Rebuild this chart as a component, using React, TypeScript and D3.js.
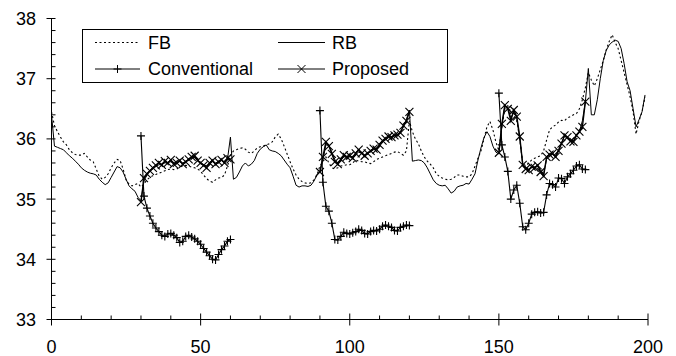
import React from "react";
import * as d3 from "d3";

// FB and RB cover steps 0..199; the two estimators restart every 60 steps
const fb = [
  36.45, 36.22, 36.12, 36.03, 35.95, 35.9, 35.82, 35.77, 35.74, 35.73,
  35.73, 35.76, 35.7, 35.65, 35.62, 35.5, 35.38, 35.33, 35.36, 35.42,
  35.52, 35.6, 35.66, 35.64, 35.5, 35.32, 35.25, 35.22, 35.24, 35.26,
  35.2, 35.25, 35.32, 35.36, 35.39, 35.41, 35.43, 35.45, 35.47, 35.49,
  35.5, 35.49, 35.5, 35.53, 35.55, 35.56, 35.55, 35.53, 35.52, 35.5,
  35.46, 35.4, 35.34, 35.3, 35.28, 35.32, 35.35, 35.36, 35.4, 35.55,
  35.72, 35.8, 35.82, 35.84, 35.85, 35.83, 35.78, 35.76, 35.8, 35.85,
  35.87, 35.88, 35.9, 35.92, 35.95, 36.03, 36.08, 36.0, 35.88, 35.75,
  35.62, 35.5, 35.4, 35.33, 35.29, 35.27, 35.26, 35.27, 35.32, 35.4,
  35.55, 35.62, 35.7, 35.6, 35.52, 35.5, 35.52, 35.55, 35.56, 35.57,
  35.57, 35.6, 35.65, 35.63, 35.62, 35.62, 35.6, 35.59, 35.62, 35.66,
  35.68, 35.7, 35.72, 35.74, 35.76, 35.78, 35.79, 35.76, 35.73, 35.8,
  36.3, 36.12, 36.0, 35.92, 35.8, 35.7, 35.63, 35.58, 35.52, 35.42,
  35.38, 35.35, 35.33, 35.32, 35.33, 35.36, 35.4, 35.4, 35.38, 35.37,
  35.37, 35.42, 35.55, 35.68, 35.8, 36.0, 36.2, 36.29, 36.15, 35.95,
  35.8, 36.2, 36.5, 36.55, 36.45, 36.4, 36.3, 36.0, 35.6, 35.55,
  35.6, 35.65, 35.68, 35.7, 35.72, 35.8, 35.98, 36.15, 36.2, 36.23,
  36.28, 36.31, 36.3, 36.35, 36.37, 36.4, 36.42, 36.5, 36.65, 36.85,
  37.1, 36.98, 36.88, 37.0, 37.15, 37.3, 37.48, 37.62, 37.73, 37.6,
  37.5, 37.3, 37.1, 36.9, 36.7, 36.45, 36.08, 36.3, 36.45, 36.7,
];

const rb = [
  36.4, 35.88, 35.86, 35.84, 35.82, 35.77, 35.72, 35.68, 35.63, 35.58,
  35.52, 35.48, 35.45, 35.43, 35.42, 35.4, 35.33, 35.28, 35.24, 35.27,
  35.36, 35.45, 35.54, 35.52, 35.45, 35.33, 35.22, 35.17, 35.13, 35.03,
  34.97, 35.3, 35.4, 35.46, 35.5, 35.54, 35.57, 35.58, 35.6, 35.61,
  35.62, 35.6, 35.61, 35.62, 35.6, 35.62, 35.65, 35.68, 35.7, 35.65,
  35.6, 35.57, 35.55, 35.58, 35.62, 35.6, 35.62, 35.64, 35.62, 35.66,
  36.03, 35.33, 35.36, 35.45, 35.55, 35.6, 35.55, 35.58, 35.64, 35.76,
  35.83, 35.87, 35.9, 35.82, 35.8, 35.79, 35.76, 35.72, 35.65, 35.58,
  35.52, 35.38, 35.23, 35.2, 35.22, 35.22, 35.21, 35.23, 35.3, 35.4,
  35.47, 35.65, 35.9, 35.9, 35.78, 35.66, 35.6, 35.64, 35.7, 35.71,
  35.7, 35.7, 35.74, 35.78, 35.76, 35.74, 35.76, 35.79, 35.82, 35.84,
  35.88, 35.94, 35.99, 36.02, 36.04, 36.05, 36.07, 36.12, 36.2, 36.32,
  36.48, 35.63, 35.64, 35.65, 35.64, 35.6, 35.52, 35.42, 35.32, 35.26,
  35.23, 35.22, 35.23, 35.17, 35.1, 35.13, 35.2, 35.22, 35.23, 35.26,
  35.25, 35.33, 35.42, 35.65, 35.85, 36.02, 36.12, 36.04, 35.88, 35.78,
  35.75, 36.2, 36.55, 36.52, 36.35, 36.45, 36.35, 36.0, 35.58, 35.52,
  35.5, 35.52, 35.54, 35.55, 35.48, 35.42, 35.66, 35.72, 35.74, 35.72,
  35.82, 35.94, 36.04, 36.02, 35.98, 35.97, 36.05, 36.12, 36.3, 36.62,
  37.17, 36.4, 36.4, 36.65, 37.0, 37.3, 37.47, 37.56, 37.61, 37.64,
  37.62, 37.5, 37.25, 36.95, 36.8, 36.5, 36.2, 36.32, 36.45, 36.73,
];

const segStarts = [30, 90, 150];

const conventional = [
  [36.05, 35.05, 34.85, 34.72, 34.6, 34.52, 34.46, 34.4, 34.38, 34.42, 34.43, 34.4, 34.36, 34.28, 34.3, 34.38,
    34.4, 34.37, 34.34, 34.3, 34.25, 34.18, 34.12, 34.06, 34.0, 33.99, 34.08, 34.16, 34.22, 34.3, 34.33],
  [36.47, 35.28, 34.88, 34.8, 34.6, 34.33, 34.32, 34.38, 34.45, 34.43, 34.42, 34.44, 34.46, 34.5, 34.48, 34.43,
    34.42, 34.46, 34.48, 34.47, 34.5, 34.55, 34.57, 34.55, 34.53, 34.48, 34.47, 34.53, 34.55, 34.57, 34.56],
  [36.76, 35.9, 35.7, 35.46, 35.0, 35.15, 35.23, 34.93, 34.54, 34.49, 34.6, 34.75, 34.78, 34.79, 34.77, 34.78,
    35.07, 35.26, 35.24, 35.2, 35.35, 35.34, 35.26, 35.37, 35.42, 35.48, 35.55, 35.57, 35.5, 35.49],
];

const proposed = [
  [34.95, 35.35, 35.42, 35.47, 35.52, 35.56, 35.6, 35.57, 35.63, 35.6, 35.65, 35.58, 35.6, 35.64, 35.58, 35.62,
    35.66, 35.7, 35.72, 35.64, 35.6, 35.56, 35.52, 35.6, 35.64, 35.58, 35.62, 35.65, 35.6, 35.68, 35.66],
  [35.45, 35.7, 35.95, 35.88, 35.75, 35.62, 35.58, 35.66, 35.73, 35.7, 35.72, 35.68, 35.76, 35.82, 35.76, 35.72,
    35.76, 35.8, 35.84, 35.82, 35.9, 35.97, 36.0, 36.04, 36.03, 36.06, 36.07, 36.1, 36.22, 36.3, 36.45],
  [35.77, 36.25, 36.56, 36.5, 36.3, 36.48, 36.37, 36.04, 35.57, 35.5, 35.48, 35.54, 35.52, 35.56, 35.45, 35.38,
    35.7, 35.74, 35.76, 35.7, 35.8, 35.92, 36.06, 36.03, 35.96, 35.95, 36.06, 36.12, 36.2, 36.62],
];

const xMajor = [0, 50, 100, 150, 200];
const xMinor = [10, 20, 30, 40, 60, 70, 80, 90, 110, 120, 130, 140, 160, 170, 180, 190];
const yMajor = [33, 34, 35, 36, 37, 38];
const yMinor = [33.2, 33.4, 33.6, 33.8, 34.2, 34.4, 34.6, 34.8, 35.2, 35.4, 35.6, 35.8, 36.2, 36.4, 36.6, 36.8, 37.2, 37.4, 37.6, 37.8];

const W = 676;
const H = 356;
const FONT = "'Liberation Sans', Arial, sans-serif";
const plusPath = "M-4,0H4M0,-4V4";
const crossPath = "M-4,-4L4,4M-4,4L4,-4";

type Pt = [number, number];

export default function App() {
  const x = d3.scaleLinear().domain([0, 200]).range([51.5, 648]);
  const y = d3.scaleLinear().domain([33, 38]).range([319.5, 18.5]);
  const line = d3
    .line<Pt>()
    .x((d) => x(d[0]))
    .y((d) => y(d[1]));

  const toPts = (vals: number[], start: number): Pt[] => vals.map((v, i) => [start + i, v]);
  const fbPts = toPts(fb, 0);
  const rbPts = toPts(rb, 0);
  const convSegs = conventional.map((s, k) => toPts(s, segStarts[k]));
  const propSegs = proposed.map((s, k) => toPts(s, segStarts[k]));

  const row1 = 42.5;
  const row2 = 69;

  return (
    <svg width={W} height={H} style={{ position: "absolute", left: 0, top: 0, background: "#fff" }}>
      {/* axes */}
      <line x1={x(0)} x2={x(200)} y1={y(33)} y2={y(33)} stroke="#000" />
      <line x1={x(0)} x2={x(0)} y1={y(33)} y2={y(38)} stroke="#000" />
      {xMajor.map((t) => (
        <g key={`xm-${t}`}>
          <line x1={x(t)} x2={x(t)} y1={y(33) - 6} y2={y(33) + 6} stroke="#000" />
          <text x={x(t)} y={353} textAnchor="middle" fontSize={18} fontFamily={FONT} fill="#000">
            {t}
          </text>
        </g>
      ))}
      {xMinor.map((t) => (
        <line key={`xn-${t}`} x1={x(t)} x2={x(t)} y1={y(33) - 4} y2={y(33)} stroke="#000" />
      ))}
      {yMajor.map((t) => (
        <g key={`ym-${t}`}>
          <line x1={x(0) - 5} x2={x(0) + 4} y1={y(t)} y2={y(t)} stroke="#000" />
          <text x={36} y={y(t) + 6.5} textAnchor="end" fontSize={18} fontFamily={FONT} fill="#000">
            {t}
          </text>
        </g>
      ))}
      {yMinor.map((t) => (
        <line key={`yn-${t}`} x1={x(0)} x2={x(0) + 4} y1={y(t)} y2={y(t)} stroke="#000" />
      ))}

      {/* series */}
      <path d={line(fbPts) ?? ""} fill="none" stroke="#000" strokeWidth={1.1} strokeDasharray="2,2.5" />
      <path d={line(rbPts) ?? ""} fill="none" stroke="#000" strokeWidth={1} />
      {convSegs.map((seg, k) => (
        <g key={`c-${k}`}>
          <path d={line(seg) ?? ""} fill="none" stroke="#000" strokeWidth={1.1} />
          {seg.map((p, i) => (
            <path key={i} d={plusPath} transform={`translate(${x(p[0])},${y(p[1])})`} stroke="#000" strokeWidth={1.1} fill="none" />
          ))}
        </g>
      ))}
      {propSegs.map((seg, k) => (
        <g key={`p-${k}`}>
          <path d={line(seg) ?? ""} fill="none" stroke="#000" strokeWidth={1.4} />
          {seg.map((p, i) => (
            <path key={i} d={crossPath} transform={`translate(${x(p[0])},${y(p[1])})`} stroke="#000" strokeWidth={1.1} fill="none" />
          ))}
        </g>
      ))}

      {/* legend */}
      <rect x={82.5} y={29.5} width={365} height={53} fill="#fff" stroke="#000" />
      <line x1={95} x2={140} y1={row1} y2={row1} stroke="#000" strokeDasharray="2,2.5" />
      <text x={148} y={row1 + 6} fontSize={18} fontFamily={FONT}>FB</text>
      <line x1={278} x2={325} y1={row1} y2={row1} stroke="#000" />
      <text x={332} y={row1 + 6} fontSize={18} fontFamily={FONT}>RB</text>
      <line x1={95} x2={140} y1={row2} y2={row2} stroke="#000" />
      <path d={plusPath} transform={`translate(117.5,${row2})`} stroke="#000" />
      <text x={148} y={row2 + 6} fontSize={18} fontFamily={FONT}>Conventional</text>
      <line x1={278} x2={325} y1={row2} y2={row2} stroke="#000" />
      <path d={crossPath} transform={`translate(301.5,${row2})`} stroke="#000" />
      <text x={332} y={row2 + 6} fontSize={18} fontFamily={FONT}>Proposed</text>
    </svg>
  );
}
